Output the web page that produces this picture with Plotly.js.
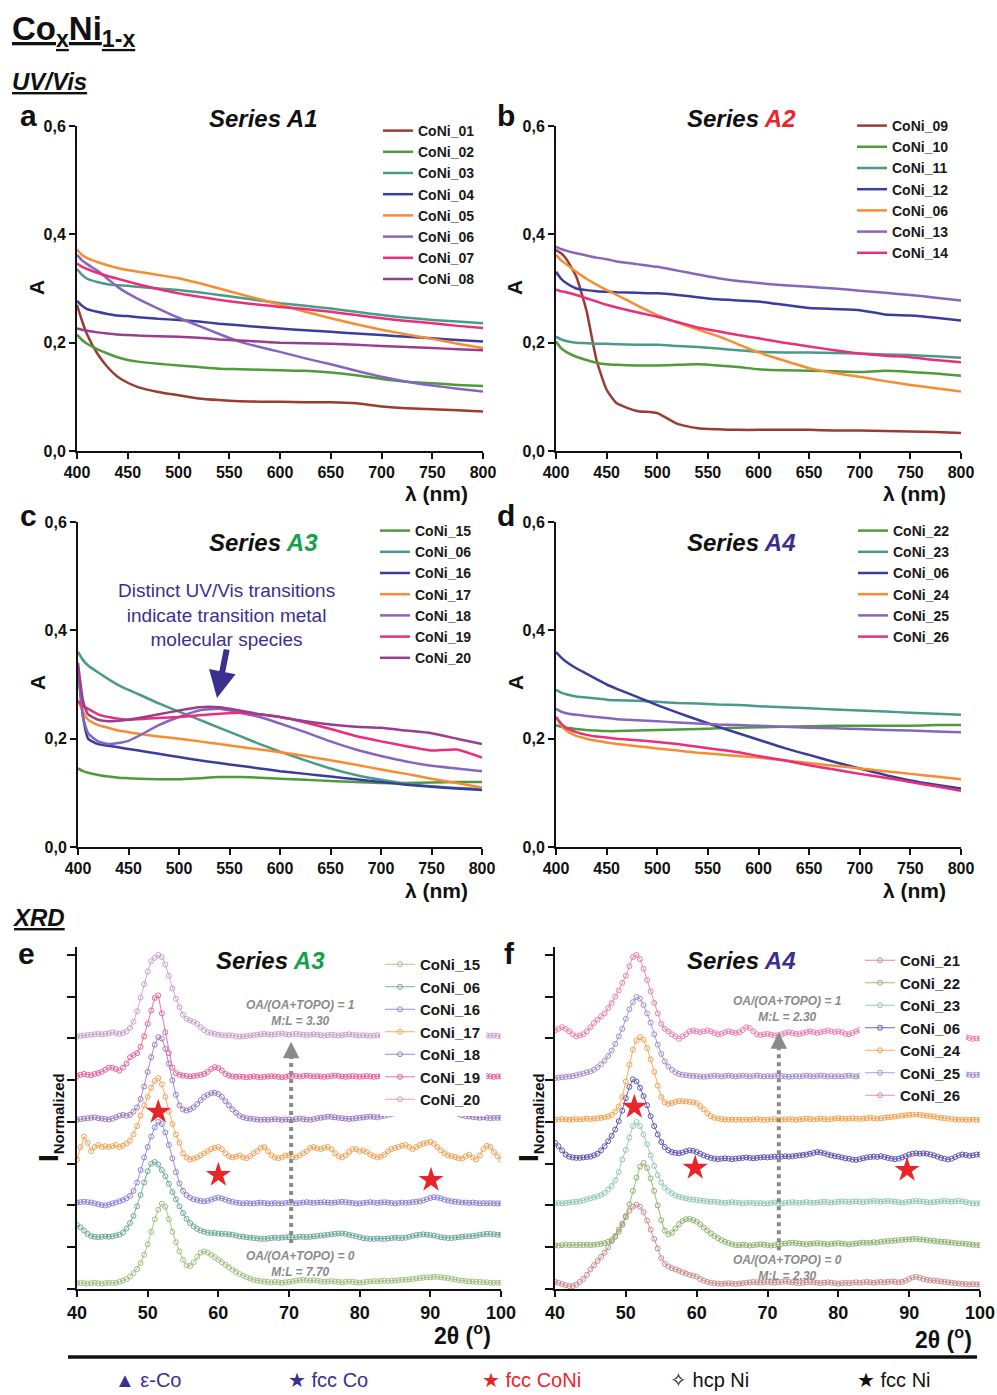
<!DOCTYPE html>
<html><head><meta charset="utf-8">
<script src="https://cdn.plot.ly/plotly-3.0.1.min.js"></script>
<style>html,body{margin:0;padding:0;background:#fff}#chart{width:997px;height:1395px}</style>
</head><body><div id="chart"></div>
<script>
const W = 997, H = 1395;
const F = 'Liberation Sans, Arial, sans-serif';

// ---------------- UV/Vis data ----------------
const lambda = [400,405,410,420,430,440,450,460,480,500,520,540,560,580,600,625,650,675,700,725,750,775,800];
const uvTicks = [400,450,500,550,600,650,700,750,800];
const absTicks = [0,0.2,0.4,0.6];
const absLabels = ['0,0','0,2','0,4','0,6'];

const namesA1 = ['CoNi_01','CoNi_02','CoNi_03','CoNi_04','CoNi_05','CoNi_06','CoNi_07','CoNi_08'];
const CoNi01_A1 = [.27,.24,.215,.18,.155,.137,.126,.118,.109,.103,.097,.094,.092,.091,.091,.09,.09,.088,.082,.079,.077,.075,.073];
const CoNi02_A1 = [.215,.205,.198,.188,.18,.173,.168,.165,.161,.158,.155,.152,.151,.15,.149,.148,.145,.14,.133,.128,.125,.122,.12];
const CoNi03_A1 = [.336,.325,.318,.312,.308,.306,.305,.303,.3,.297,.293,.288,.283,.278,.273,.268,.263,.257,.251,.246,.242,.239,.236];
const CoNi04_A1 = [.277,.268,.262,.257,.253,.25,.249,.247,.244,.242,.239,.235,.232,.229,.226,.223,.22,.217,.214,.211,.208,.205,.202];
const CoNi05_A1 = [.372,.362,.356,.349,.343,.338,.334,.331,.325,.319,.31,.3,.29,.28,.27,.257,.245,.234,.224,.215,.207,.198,.19];
const CoNi06_A1 = [.362,.352,.345,.333,.318,.303,.291,.281,.263,.246,.231,.216,.202,.192,.183,.171,.16,.148,.137,.128,.121,.115,.11];
const CoNi07_A1 = [.346,.34,.336,.329,.323,.318,.313,.308,.299,.291,.285,.279,.274,.27,.266,.262,.257,.251,.245,.24,.236,.231,.227];
const CoNi08_A1 = [.226,.224,.222,.219,.217,.215,.214,.213,.212,.211,.209,.206,.204,.202,.2,.199,.198,.196,.194,.192,.19,.188,.186];

const namesA2 = ['CoNi_09','CoNi_10','CoNi_11','CoNi_12','CoNi_06','CoNi_13','CoNi_14'];
const CoNi09_A2 = [.371,.365,.355,.322,.26,.168,.113,.088,.074,.07,.05,.042,.04,.039,.039,.039,.039,.038,.038,.037,.036,.035,.033];
const CoNi10_A2 = [.202,.19,.183,.174,.168,.163,.16,.159,.158,.158,.159,.16,.158,.155,.151,.149,.148,.147,.146,.148,.146,.143,.139];
const CoNi11_A2 = [.211,.206,.203,.2,.199,.198,.198,.197,.196,.196,.194,.192,.189,.186,.183,.182,.182,.181,.18,.178,.177,.175,.172];
const CoNi12_A2 = [.331,.318,.31,.3,.297,.295,.294,.293,.292,.291,.288,.284,.28,.278,.276,.27,.264,.262,.26,.252,.25,.246,.241];
const CoNi06_A2 = [.362,.352,.345,.331,.318,.307,.297,.288,.269,.251,.237,.224,.212,.197,.182,.167,.153,.144,.137,.129,.122,.116,.11];
const CoNi13_A2 = [.377,.373,.37,.365,.361,.357,.354,.35,.345,.34,.333,.326,.319,.314,.31,.306,.303,.3,.296,.292,.288,.283,.278];
const CoNi14_A2 = [.298,.295,.293,.288,.282,.276,.27,.265,.256,.248,.238,.228,.221,.214,.208,.2,.193,.186,.18,.176,.173,.168,.164];

const namesA3 = ['CoNi_15','CoNi_06','CoNi_16','CoNi_17','CoNi_18','CoNi_19','CoNi_20'];
const CoNi15_A3 = [.145,.14,.137,.133,.13,.128,.127,.126,.125,.125,.127,.129,.129,.128,.126,.124,.122,.12,.118,.118,.119,.12,.12];
const CoNi06_A3 = [.36,.345,.335,.322,.31,.299,.29,.282,.265,.25,.235,.22,.205,.19,.176,.16,.145,.133,.124,.117,.112,.109,.107];
const CoNi16_A3 = [.33,.24,.2,.19,.187,.184,.181,.178,.172,.166,.16,.155,.15,.145,.14,.135,.13,.125,.12,.115,.111,.108,.105];
const CoNi17_A3 = [.27,.25,.235,.225,.22,.215,.212,.209,.204,.2,.195,.19,.185,.18,.175,.168,.16,.152,.143,.135,.126,.118,.11];
const CoNi18_A3 = [.33,.24,.21,.195,.19,.192,.196,.205,.225,.24,.252,.255,.248,.24,.228,.212,.195,.18,.168,.158,.15,.145,.14];
const CoNi19_A3 = [.27,.26,.255,.245,.24,.237,.235,.236,.238,.24,.243,.246,.248,.245,.24,.23,.218,.205,.195,.186,.178,.18,.165];
const CoNi20_A3 = [.34,.27,.245,.235,.232,.233,.235,.238,.245,.252,.258,.258,.252,.245,.24,.232,.226,.222,.22,.215,.21,.2,.19];

const namesA4 = ['CoNi_22','CoNi_23','CoNi_06','CoNi_24','CoNi_25','CoNi_26'];
const CoNi22_A4 = [.225,.222,.22,.218,.216,.215,.214,.214,.215,.216,.217,.218,.219,.22,.221,.222,.223,.224,.224,.224,.224,.225,.225];
const CoNi23_A4 = [.29,.285,.282,.278,.276,.274,.272,.271,.27,.268,.266,.265,.263,.262,.26,.258,.256,.254,.252,.25,.248,.246,.244];
const CoNi06_A4 = [.36,.35,.342,.33,.32,.31,.3,.292,.277,.262,.248,.235,.222,.21,.198,.183,.17,.157,.145,.133,.123,.115,.108];
const CoNi24_A4 = [.24,.225,.215,.205,.2,.196,.193,.19,.186,.182,.178,.174,.171,.168,.165,.16,.155,.15,.145,.14,.135,.13,.125];
const CoNi25_A4 = [.255,.25,.247,.244,.242,.24,.238,.236,.234,.232,.23,.228,.226,.225,.224,.222,.22,.219,.218,.216,.215,.213,.212];
const CoNi26_A4 = [.24,.228,.22,.212,.207,.204,.202,.2,.197,.194,.19,.185,.18,.175,.168,.16,.151,.143,.135,.128,.12,.112,.104];

// ---------------- XRD data (2theta 40..100, step 0.5; profile above stacking offset) ----------------
const tth = []; for (let i = 0; i <= 120; i++) tth.push(40 + 0.5 * i);
const xrdTicks = [40,50,60,70,80,90,100];
const stackTicks = [0,1,2,3,4,5,6,7,8];

const namesXE = ['CoNi_15','CoNi_06','CoNi_16','CoNi_17','CoNi_18','CoNi_19','CoNi_20'];
const offsetsXE = [0.12, 1.2, 2.05, 3.1, 4.05, 5.05, 6.05];
const XE_15 = [0.02,0.03,0.02,0.01,0.02,0.03,0.02,0.01,0.02,0.03,
 0.02,0.03,0.05,0.08,0.12,0.18,0.26,0.36,0.5,0.7,
 0.95,1.25,1.55,1.78,1.92,1.85,1.55,1.25,1.0,0.78,
 0.58,0.45,0.43,0.52,0.65,0.75,0.78,0.75,0.7,0.64,
 0.58,0.52,0.46,0.4,0.34,0.29,0.24,0.2,0.16,0.13,
 0.1,0.08,0.07,0.06,0.05,0.04,0.05,0.04,0.03,0.04,
 0.05,0.06,0.08,0.09,0.1,0.09,0.08,0.09,0.08,0.06,
 0.05,0.06,0.07,0.06,0.05,0.04,0.05,0.06,0.05,0.04,
 0.03,0.04,0.05,0.06,0.07,0.06,0.07,0.08,0.07,0.08,
 0.08,0.09,0.1,0.1,0.11,0.12,0.13,0.14,0.15,0.16,
 0.16,0.17,0.17,0.16,0.15,0.14,0.12,0.11,0.09,0.08,
 0.07,0.06,0.06,0.05,0.05,0.04,0.04,0.03,0.03,0.03,
 0.03];
const XE_06 = [0.33,0.28,0.2,0.12,0.07,0.05,0.04,0.05,0.06,0.05,
 0.06,0.08,0.1,0.15,0.25,0.38,0.55,0.78,1.05,1.35,
 1.62,1.8,1.84,1.78,1.65,1.5,1.32,1.12,0.95,0.78,
 0.62,0.48,0.38,0.3,0.24,0.2,0.17,0.15,0.14,0.14,
 0.13,0.12,0.12,0.11,0.1,0.08,0.06,0.05,0.04,0.03,
 0.02,0.01,0.0,0.0,0.01,0.02,0.03,0.02,0.03,0.04,
 0.04,0.03,0.04,0.05,0.05,0.04,0.05,0.06,0.07,0.08,
 0.09,0.1,0.11,0.12,0.13,0.13,0.12,0.1,0.08,0.06,
 0.04,0.02,0.01,0.0,0.0,0.01,0.0,0.0,0.01,0.02,
 0.03,0.02,0.02,0.03,0.05,0.07,0.09,0.1,0.11,0.1,
 0.09,0.08,0.06,0.04,0.03,0.02,0.02,0.03,0.04,0.05,
 0.06,0.06,0.07,0.08,0.1,0.11,0.12,0.12,0.11,0.1,
 0.1];
const XE_16 = [0.02,0.03,0.04,0.03,0.02,0.0,-0.02,-0.04,-0.05,-0.03,
 0.0,0.02,0.05,0.08,0.12,0.18,0.3,0.5,0.8,1.1,
 1.35,1.6,1.82,1.95,1.9,1.7,1.4,1.08,0.75,0.48,
 0.3,0.2,0.14,0.1,0.08,0.06,0.05,0.06,0.09,0.12,
 0.14,0.12,0.09,0.06,0.04,0.02,0.01,0.0,0.01,0.0,
 0.0,0.01,0.02,0.01,0.0,0.0,0.01,0.0,0.0,0.01,
 0.02,0.01,0.0,0.01,0.02,0.03,0.02,0.01,0.02,0.02,
 0.03,0.02,0.01,0.02,0.03,0.04,0.03,0.02,0.01,0.0,
 0.0,0.01,0.02,0.03,0.02,0.01,0.02,0.03,0.02,0.01,
 0.0,0.01,0.02,0.01,0.02,0.03,0.04,0.05,0.07,0.1,
 0.13,0.15,0.14,0.12,0.09,0.07,0.05,0.04,0.03,0.02,
 0.02,0.01,0.02,0.01,0.0,0.01,0.0,0.01,0.0,0.0,
 0.0];
const XE_17 = [0.0,0.3,0.55,0.4,0.2,0.3,0.35,0.3,0.32,0.3,
 0.32,0.35,0.3,0.33,0.38,0.45,0.6,0.8,1.05,1.3,
 1.5,1.72,1.88,1.95,1.8,1.5,1.15,0.85,0.6,0.4,
 0.15,0.05,0.0,0.02,0.05,0.1,0.15,0.2,0.25,0.28,
 0.3,0.25,0.15,0.08,0.05,0.07,0.1,0.05,0.03,0.08,
 0.15,0.2,0.28,0.3,0.2,0.1,0.05,0.03,0.05,0.1,
 0.1,0.06,0.05,0.1,0.15,0.2,0.28,0.3,0.27,0.25,
 0.28,0.3,0.25,0.15,0.08,0.05,0.1,0.18,0.25,0.25,
 0.2,0.22,0.18,0.12,0.08,0.05,0.07,0.12,0.2,0.25,
 0.28,0.3,0.33,0.35,0.3,0.25,0.3,0.35,0.38,0.4,
 0.42,0.38,0.3,0.22,0.15,0.1,0.08,0.06,0.03,0.02,
 0.08,0.12,0.05,0.0,0.1,0.25,0.33,0.3,0.18,0.08,
 0.0];
const XE_18 = [0.0,0.02,0.03,0.04,0.05,0.06,0.04,0.03,0.02,0.01,
 0.03,0.06,0.1,0.12,0.1,0.12,0.2,0.3,0.5,0.8,
 1.15,1.5,1.8,1.98,1.95,1.7,1.35,0.95,0.6,0.35,
 0.25,0.22,0.25,0.3,0.38,0.47,0.55,0.6,0.64,0.65,
 0.62,0.55,0.45,0.35,0.25,0.17,0.1,0.06,0.04,0.03,
 0.02,0.01,0.0,0.01,0.0,0.01,0.02,0.01,0.0,0.01,
 0.01,0.0,0.02,0.03,0.02,0.01,0.0,0.02,0.04,0.05,
 0.06,0.08,0.07,0.06,0.05,0.04,0.03,0.02,0.03,0.04,
 0.05,0.06,0.07,0.08,0.07,0.06,0.08,0.1,0.12,0.14,
 0.16,0.17,0.18,0.2,0.22,0.23,0.24,0.26,0.27,0.28,
 0.28,0.29,0.27,0.25,0.26,0.24,0.2,0.17,0.14,0.11,
 0.09,0.08,0.07,0.06,0.05,0.06,0.05,0.04,0.05,0.05,
 0.05];
const XE_19 = [0.05,0.08,0.1,0.08,0.07,0.1,0.12,0.15,0.2,0.25,
 0.25,0.22,0.18,0.25,0.35,0.5,0.55,0.6,0.75,1.0,
 1.3,1.62,1.92,1.98,1.55,1.1,0.6,0.25,0.12,0.08,
 0.06,0.05,0.04,0.05,0.06,0.08,0.1,0.15,0.22,0.26,
 0.24,0.18,0.1,0.06,0.04,0.03,0.04,0.03,0.02,0.03,
 0.04,0.03,0.02,0.03,0.04,0.05,0.04,0.03,0.02,0.03,
 0.05,0.06,0.05,0.04,0.05,0.06,0.05,0.04,0.05,0.04,
 0.03,0.04,0.05,0.06,0.05,0.04,0.03,0.04,0.05,0.04,
 0.03,0.04,0.05,0.04,0.03,0.04,0.05,0.06,0.05,0.04,
 0.05,0.06,0.05,0.04,0.05,0.06,0.07,0.06,0.05,0.06,
 0.07,0.06,0.05,0.06,0.05,0.04,0.05,0.06,0.05,0.04,
 0.05,0.06,0.05,0.04,0.05,0.06,0.05,0.04,0.03,0.04,
 0.04];
const XE_20 = [0.0,0.01,0.02,0.03,0.04,0.05,0.06,0.05,0.06,0.07,
 0.1,0.08,0.06,0.08,0.12,0.2,0.35,0.6,0.93,1.25,
 1.55,1.8,1.88,1.95,1.9,1.72,1.45,1.15,0.9,0.7,
 0.52,0.42,0.38,0.35,0.3,0.22,0.15,0.1,0.08,0.06,
 0.04,0.03,0.02,0.03,0.02,0.0,-0.01,0.0,0.01,0.02,
 0.03,0.04,0.05,0.06,0.05,0.04,0.05,0.06,0.07,0.05,
 0.04,0.05,0.06,0.05,0.04,0.03,0.04,0.05,0.04,0.03,
 0.02,0.03,0.04,0.03,0.02,0.03,0.04,0.05,0.04,0.03,
 0.02,0.03,0.02,0.01,0.02,0.03,0.02,0.01,0.02,0.03,
 0.04,0.03,0.02,0.03,0.02,0.01,0.02,0.03,0.02,0.01,
 0.02,0.03,0.02,0.01,0.02,0.03,0.02,0.01,0.02,0.01,
 0.0,0.01,0.02,0.01,0.02,0.03,0.02,0.01,0.02,0.01,
 0.0];
const profilesXE = [XE_15, XE_06, XE_16, XE_17, XE_18, XE_19, XE_20];

const namesXF = ['CoNi_21','CoNi_22','CoNi_23','CoNi_06','CoNi_24','CoNi_25','CoNi_26'];
const offsetsXF = [0.12, 1.05, 2.05, 3.12, 4.05, 5.05, 6.05];
const XF_21 = [0.05,0.03,0.0,-0.03,-0.05,-0.05,-0.02,0.05,0.12,0.22,
 0.35,0.45,0.55,0.65,0.75,0.88,1.02,1.15,1.3,1.45,
 1.6,1.75,1.85,1.9,1.85,1.72,1.52,1.3,1.08,0.85,
 0.62,0.48,0.42,0.38,0.35,0.32,0.28,0.25,0.22,0.2,
 0.18,0.12,0.08,0.05,0.03,0.02,0.01,0.0,0.01,0.02,
 0.01,0.0,0.01,0.02,0.03,0.04,0.05,0.04,0.03,0.04,
 0.05,0.04,0.03,0.04,0.05,0.06,0.05,0.04,0.03,0.02,
 0.03,0.04,0.05,0.04,0.03,0.02,0.03,0.04,0.03,0.02,
 0.01,0.02,0.03,0.02,0.03,0.04,0.03,0.04,0.05,0.04,
 0.03,0.04,0.05,0.04,0.05,0.06,0.05,0.04,0.05,0.08,
 0.12,0.16,0.17,0.15,0.12,0.1,0.09,0.08,0.07,0.06,
 0.05,0.04,0.03,0.02,0.01,0.0,0.0,-0.01,0.0,-0.01,
 -0.01];
const XF_22 = [0.0,-0.01,0.0,0.01,0.0,0.01,0.0,0.01,0.0,0.01,
 0.0,0.01,0.02,0.03,0.05,0.08,0.12,0.2,0.32,0.48,
 0.7,0.98,1.3,1.62,1.88,1.97,1.85,1.6,1.3,0.95,
 0.6,0.35,0.26,0.3,0.4,0.5,0.58,0.62,0.63,0.6,
 0.56,0.5,0.42,0.35,0.28,0.22,0.17,0.12,0.08,0.05,
 0.02,0.0,0.0,0.01,0.0,-0.01,0.0,0.01,0.02,0.01,
 0.0,-0.01,0.0,0.02,0.03,0.04,0.05,0.06,0.05,0.04,
 0.03,0.02,0.03,0.04,0.05,0.04,0.03,0.02,0.03,0.04,
 0.05,0.04,0.03,0.02,0.03,0.04,0.05,0.06,0.05,0.06,
 0.07,0.06,0.08,0.09,0.1,0.1,0.11,0.12,0.13,0.13,
 0.14,0.15,0.15,0.14,0.13,0.12,0.11,0.1,0.09,0.08,
 0.08,0.07,0.06,0.05,0.04,0.04,0.03,0.02,0.01,0.0,
 0.0];
const XF_23 = [0.0,0.01,0.0,0.01,0.02,0.03,0.04,0.05,0.07,0.1,
 0.12,0.14,0.17,0.2,0.25,0.33,0.42,0.55,0.75,1.05,
 1.28,1.58,1.85,1.95,1.85,1.65,1.42,1.15,0.9,0.68,
 0.5,0.38,0.3,0.24,0.19,0.16,0.14,0.12,0.1,0.09,
 0.08,0.07,0.06,0.05,0.04,0.04,0.03,0.02,0.01,0.02,
 0.03,0.02,0.01,0.0,0.01,0.02,0.01,0.0,0.01,0.0,
 0.0,0.01,0.02,0.01,0.0,0.01,0.02,0.03,0.02,0.01,
 0.02,0.03,0.02,0.01,0.02,0.03,0.04,0.03,0.02,0.03,
 0.04,0.05,0.04,0.03,0.04,0.05,0.04,0.03,0.04,0.05,
 0.06,0.05,0.04,0.05,0.06,0.05,0.04,0.03,0.02,0.03,
 0.04,0.05,0.06,0.05,0.04,0.03,0.02,0.03,0.04,0.05,
 0.06,0.05,0.04,0.05,0.06,0.05,0.03,0.01,0.0,0.0,
 0.01];
const XF_06 = [0.38,0.3,0.2,0.1,0.05,0.03,0.02,0.02,0.03,0.04,
 0.05,0.08,0.12,0.2,0.3,0.42,0.55,0.7,0.9,1.15,
 1.45,1.72,1.9,1.85,1.7,1.5,1.28,1.02,0.78,0.58,
 0.4,0.28,0.2,0.16,0.14,0.13,0.15,0.18,0.2,0.19,
 0.16,0.12,0.08,0.05,0.02,0.0,-0.01,0.0,0.01,0.0,
 -0.01,0.0,0.01,0.02,0.03,0.02,0.01,0.02,0.03,0.04,
 0.03,0.04,0.05,0.04,0.05,0.06,0.05,0.06,0.07,0.08,
 0.09,0.1,0.12,0.14,0.16,0.15,0.13,0.1,0.08,0.06,
 0.05,0.03,0.01,0.0,-0.02,-0.03,-0.01,0.01,0.03,0.04,
 0.05,0.04,0.06,0.04,0.02,0.0,-0.01,0.0,0.03,0.06,
 0.1,0.12,0.13,0.12,0.13,0.12,0.1,0.08,0.05,0.02,
 0.0,-0.02,0.0,0.04,0.08,0.1,0.09,0.07,0.08,0.1,
 0.1];
const XF_24 = [0.0,0.01,0.02,0.01,0.0,0.01,0.02,0.01,0.02,0.03,
 0.02,0.03,0.04,0.05,0.06,0.08,0.12,0.2,0.32,0.55,
 0.92,1.32,1.68,1.9,1.98,1.92,1.72,1.45,1.15,0.82,
 0.55,0.42,0.38,0.4,0.43,0.45,0.45,0.44,0.43,0.42,
 0.4,0.33,0.25,0.16,0.09,0.05,0.03,0.02,0.01,0.0,
 0.01,0.0,0.01,0.0,0.01,0.0,0.01,0.02,0.01,0.0,
 0.0,0.01,0.02,0.01,0.0,0.01,0.02,0.01,0.0,0.01,
 0.02,0.03,0.02,0.01,0.02,0.03,0.02,0.01,0.02,0.03,
 0.04,0.03,0.02,0.03,0.04,0.03,0.02,0.03,0.04,0.05,
 0.04,0.03,0.04,0.05,0.06,0.07,0.08,0.09,0.1,0.11,
 0.12,0.13,0.13,0.12,0.11,0.1,0.09,0.08,0.06,0.05,
 0.04,0.03,0.02,0.01,0.0,0.01,0.0,0.0,0.01,0.0,
 0.0];
const XF_25 = [0.0,0.01,0.02,0.03,0.04,0.05,0.07,0.09,0.11,0.14,
 0.16,0.2,0.26,0.33,0.42,0.53,0.66,0.82,1.0,1.18,
 1.42,1.65,1.82,1.94,1.9,1.75,1.55,1.33,1.05,0.8,
 0.58,0.4,0.28,0.2,0.14,0.1,0.08,0.07,0.06,0.05,
 0.05,0.04,0.03,0.04,0.05,0.06,0.05,0.04,0.05,0.06,
 0.05,0.04,0.05,0.06,0.05,0.04,0.05,0.06,0.05,0.04,
 0.05,0.04,0.05,0.06,0.05,0.04,0.03,0.04,0.05,0.04,
 0.05,0.06,0.05,0.04,0.05,0.06,0.05,0.04,0.05,0.04,
 0.05,0.04,0.05,0.06,0.05,0.04,0.05,0.06,0.05,0.04,
 0.05,0.04,0.05,0.06,0.05,0.04,0.05,0.06,0.07,0.06,
 0.07,0.06,0.05,0.06,0.07,0.08,0.07,0.06,0.07,0.08,
 0.07,0.08,0.09,0.08,0.07,0.08,0.09,0.08,0.07,0.08,
 0.08];
const XF_26 = [0.14,0.18,0.22,0.18,0.12,0.05,0.0,0.02,0.05,0.12,
 0.22,0.32,0.4,0.48,0.55,0.68,0.8,0.95,1.1,1.28,
 1.45,1.68,1.9,1.95,1.85,1.62,1.35,1.08,0.8,0.55,
 0.3,0.18,0.12,0.05,0.0,-0.06,0.0,0.05,0.12,0.14,
 0.12,0.1,0.12,0.14,0.12,0.08,0.05,0.06,0.1,0.12,
 0.1,0.08,0.1,0.15,0.22,0.2,0.12,0.05,0.03,0.05,
 0.06,0.04,0.02,0.03,0.05,0.08,0.1,0.08,0.06,0.05,
 0.08,0.1,0.12,0.1,0.08,0.1,0.12,0.14,0.12,0.1,
 0.12,0.1,0.06,0.05,0.08,0.12,0.15,0.14,0.12,0.1,
 0.12,0.14,0.15,0.18,0.2,0.18,0.15,0.12,0.1,0.12,
 0.14,0.1,0.05,0.02,0.05,0.1,0.14,0.15,0.12,0.15,
 0.18,0.2,0.18,0.12,0.05,0.0,-0.02,-0.04,-0.06,-0.05,
 -0.05];
const profilesXF = [XF_21, XF_22, XF_23, XF_06, XF_24, XF_25, XF_26];

// red star (fcc CoNi) markers on the XRD panels
const starE_x = [51.5, 60.0, 90.1], starE_y = [4.24, 2.73, 2.61];
const starF_x = [51.2, 59.8, 89.7], starF_y = [4.36, 2.9, 2.85];

// ---------------- styles ----------------
const uvColA1 = ['#9b3b33','#4f9a3a','#4a9a88','#3a3d9e','#f78c30','#8665bf','#ec2d7a','#9a3d8e'];
const uvColA2 = ['#9b3b33','#4f9a3a','#4a9a88','#3a3d9e','#f78c30','#8665bf','#ec2d7a'];
const uvColA3 = ['#4f9a3a','#4a9a88','#3a3d9e','#f78c30','#8665bf','#ec2d7a','#9a3d8e'];
const uvColA4 = ['#4f9a3a','#4a9a88','#3a3d9e','#f78c30','#8665bf','#ec2d7a'];
const xrdColE = ['#9fbf80','#6aa898','#8a84d6','#f5a256','#9a7cc6','#e9619b','#c9a0cc'];
const xrdColF = ['#cc8a8c','#8db46e','#94c6b6','#5d54b0','#f6a24e','#a58dd0','#ef7eaa'];

const traces = [];
function axn(k){ return k === 1 ? '' : String(k); }
function addUV(names, vals, colors, k){
  names.forEach((n, i) => traces.push({
    type:'scatter', mode:'lines', x: lambda, y: vals[i], name: n,
    xaxis:'x'+axn(k), yaxis:'y'+axn(k), legend:'legend'+axn(k),
    line:{color: colors[i], width: 2.5, shape:'spline', smoothing:0.5}
  }));
}
function addXRD(names, profiles, offsets, colors, k){
  names.forEach((n, i) => traces.push({
    type:'scatter', mode:'lines+markers', x: tth, y: profiles[i].map(v => v + offsets[i]), name: n,
    xaxis:'x'+k, yaxis:'y'+k, legend:'legend'+k,
    line:{color: colors[i], width: 0.9},
    marker:{symbol:'circle-open', size:5, color: colors[i], line:{width:1, color: colors[i]}}
  }));
}
addUV(namesA1, [CoNi01_A1,CoNi02_A1,CoNi03_A1,CoNi04_A1,CoNi05_A1,CoNi06_A1,CoNi07_A1,CoNi08_A1], uvColA1, 1);
addUV(namesA2, [CoNi09_A2,CoNi10_A2,CoNi11_A2,CoNi12_A2,CoNi06_A2,CoNi13_A2,CoNi14_A2], uvColA2, 2);
addUV(namesA3, [CoNi15_A3,CoNi06_A3,CoNi16_A3,CoNi17_A3,CoNi18_A3,CoNi19_A3,CoNi20_A3], uvColA3, 3);
addUV(namesA4, [CoNi22_A4,CoNi23_A4,CoNi06_A4,CoNi24_A4,CoNi25_A4,CoNi26_A4], uvColA4, 4);
addXRD(namesXE, profilesXE, offsetsXE, xrdColE, 5);
addXRD(namesXF, profilesXF, offsetsXF, xrdColF, 6);
traces.push({type:'scatter', mode:'markers', x: starE_x, y: starE_y, xaxis:'x5', yaxis:'y5', showlegend:false,
  marker:{symbol:'star', size:19, color:'#e8262a', line:{width:0}}});
traces.push({type:'scatter', mode:'markers', x: starF_x, y: starF_y, xaxis:'x6', yaxis:'y6', showlegend:false,
  marker:{symbol:'star', size:19, color:'#e8262a', line:{width:0}}});

// ---------------- layout helpers ----------------
const dX = (a, b) => [a / W, b / W];
const dY = (top, bot) => [1 - bot / H, 1 - top / H];
const tickFont = s => ({family:F, size:s, color:'#111', weight:'bold'});
function axisBase(){
  return {showline:true, linewidth:2, linecolor:'#111', ticks:'outside', ticklen:6, tickwidth:2, tickcolor:'#111',
    showgrid:false, zeroline:false, fixedrange:true};
}
function uvX(dom, anchor){ return Object.assign(axisBase(), {domain:dom, anchor, range:[400,800], tickvals:uvTicks, tickfont:tickFont(16)}); }
function uvY(dom, anchor){ return Object.assign(axisBase(), {domain:dom, anchor, range:[0,0.6], tickvals:absTicks, ticktext:absLabels, tickfont:tickFont(16)}); }
function xrX(dom, anchor){ return Object.assign(axisBase(), {domain:dom, anchor, range:[40,100], tickvals:xrdTicks, tickfont:tickFont(18)}); }
function xrY(dom, anchor){ return Object.assign(axisBase(), {domain:dom, anchor, range:[0,8.19], tickvals:stackTicks, showticklabels:false, ticklen:8}); }
function leg(xpx, ypx, size, bg){
  return {x: xpx / W, y: 1 - ypx / H, xanchor:'left', yanchor:'top', bgcolor: bg || 'rgba(0,0,0,0)', borderwidth:0,
    font:{family:F, size, color:'#1a1a1a', weight:'bold'}, tracegroupgap:0, itemwidth:30, traceorder:'normal'};
}
function ann(xp, yp, text, size, extra){
  return Object.assign({xref:'paper', yref:'paper', x: xp / W, y: 1 - yp / H, text, showarrow:false,
    font:{family:F, size, color:'#111'}, xanchor:'center', yanchor:'middle'}, extra || {});
}
const red = '#e8262a', green = '#17a04a', indigo = '#3b2f8f', gray = '#8a8a8a';
const narrow = c => ({family:'Liberation Sans Narrow, Liberation Sans, Arial', size:20, color:c});

const annotations = [
  ann(10, 31, '<b><u>Co<sub>x</sub>Ni<sub>1-x</sub></u></b>', 33, {xanchor:'left'}),
  ann(10, 81, '<b><i><u>UV/Vis</u></i></b>', 24, {xanchor:'left'}),
  ann(10, 917, '<b><i><u>XRD</u></i></b>', 24, {xanchor:'left'}),
  ann(28, 116, '<b>a</b>', 30), ann(506, 116, '<b>b</b>', 30),
  ann(28, 515, '<b>c</b>', 30), ann(506, 515, '<b>d</b>', 30),
  ann(26, 953, '<b>e</b>', 30), ann(509, 953, '<b>f</b>', 30),
  ann(263, 119, '<b><i>Series A1</i></b>', 24),
  ann(741, 119, '<b><i>Series <span style="color:' + red + '">A2</span></i></b>', 24),
  ann(263, 543, '<b><i>Series <span style="color:' + green + '">A3</span></i></b>', 24),
  ann(741, 543, '<b><i>Series <span style="color:' + indigo + '">A4</span></i></b>', 24),
  ann(270, 960, '<b><i>Series <span style="color:' + green + '">A3</span></i></b>', 24),
  ann(741, 960, '<b><i>Series <span style="color:' + indigo + '">A4</span></i></b>', 24),
  ann(37, 288, '<b>A</b>', 21, {textangle:-90}), ann(515, 288, '<b>A</b>', 21, {textangle:-90}),
  ann(37, 683, '<b>A</b>', 21, {textangle:-90}), ann(515, 683, '<b>A</b>', 21, {textangle:-90}),
  ann(436, 494, '<b>λ (nm)</b>', 21), ann(914, 494, '<b>λ (nm)</b>', 21),
  ann(436, 890, '<b>λ (nm)</b>', 21), ann(914, 890, '<b>λ (nm)</b>', 21),
  ann(226, 615, 'Distinct UV/Vis transitions<br>indicate transition metal<br>molecular species', 19,
      {font:{family:F, size:19, color:indigo}}),
  {xref:'paper', yref:'paper', x: 217 / W, y: 1 - 698 / H, ax: 10, ay: -50, showarrow:true, text:'',
   arrowhead:2, arrowsize:0.9, arrowwidth:6, arrowcolor:indigo},
  ann(300, 1013, '<b><i>OA/(OA+TOPO) = 1<br>M:L = 3.30</i></b>', 12, {font:{family:F, size:12, color:gray}}),
  ann(300, 1264, '<b><i>OA/(OA+TOPO) = 0<br>M:L = 7.70</i></b>', 12, {font:{family:F, size:12, color:gray}}),
  ann(787, 1009, '<b><i>OA/(OA+TOPO) = 1<br>M:L = 2.30</i></b>', 12, {font:{family:F, size:12, color:gray}}),
  ann(787, 1268, '<b><i>OA/(OA+TOPO) = 0<br>M:L = 2.30</i></b>', 12, {font:{family:F, size:12, color:gray}}),
  {xref:'x5', yref:'y5', x:70.3, y:5.92, ax:0, ay:14, showarrow:true, text:'', arrowhead:2, arrowsize:1.1, arrowwidth:3, arrowcolor:gray},
  {xref:'x6', yref:'y6', x:71.6, y:6.15, ax:0, ay:14, showarrow:true, text:'', arrowhead:2, arrowsize:1.1, arrowwidth:3, arrowcolor:gray},
  ann(462, 1334, '<b>2θ (<sup>o</sup>)</b>', 23), ann(943, 1338, '<b>2θ (<sup>o</sup>)</b>', 23),
  ann(50, 1118, '<b>I<sub><span style="font-size:15px">Normalized</span></sub></b>', 28, {textangle:-90}),
  ann(530, 1118, '<b>I<sub><span style="font-size:15px">Normalized</span></sub></b>', 28, {textangle:-90}),
  ann(148, 1380, '▲ ε-Co', 20, {font:narrow(indigo)}),
  ann(328, 1380, '★ fcc Co', 20, {font:narrow(indigo)}),
  ann(531, 1380, '★ fcc CoNi', 20, {font:narrow(red)}),
  ann(709, 1380, '✧ hcp Ni', 20, {font:narrow('#111')}),
  ann(894, 1380, '★ fcc Ni', 20, {font:narrow('#111')})
];

const shapes = [
  {type:'line', xref:'paper', yref:'paper', x0:68 / W, x1:977 / W, y0:1 - 1357 / H, y1:1 - 1357 / H, line:{color:'#111', width:3.5}},
  {type:'line', xref:'x5', yref:'y5', x0:70.3, x1:70.3, y0:1.1, y1:5.75, line:{color:gray, width:4, dash:'dot'}},
  {type:'line', xref:'x6', yref:'y6', x0:71.6, x1:71.6, y0:0.93, y1:5.98, line:{color:gray, width:4, dash:'dot'}}
];

const layout = {
  width: W, height: H, autosize:false,
  margin:{l:0, r:0, t:0, b:0},
  paper_bgcolor:'#fff', plot_bgcolor:'rgba(0,0,0,0)',
  font:{family:F, color:'#111'},
  xaxis: uvX(dX(77,483), 'y'),   yaxis: uvY(dY(126,451), 'x'),
  xaxis2: uvX(dX(556,961), 'y2'), yaxis2: uvY(dY(126,451), 'x2'),
  xaxis3: uvX(dX(78,482), 'y3'),  yaxis3: uvY(dY(522,847), 'x3'),
  xaxis4: uvX(dX(556,961), 'y4'), yaxis4: uvY(dY(522,847), 'x4'),
  xaxis5: xrX(dX(77,501), 'y5'),  yaxis5: xrY(dY(947,1289), 'x5'),
  xaxis6: xrX(dX(555,980), 'y6'), yaxis6: xrY(dY(947,1289), 'x6'),
  legend:  leg(378, 115, 14),
  legend2: leg(852, 110, 14),
  legend3: leg(375, 515, 14),
  legend4: leg(853, 515, 14),
  legend5: leg(380, 948, 15, '#ffffff'),
  legend6: leg(860, 944, 15, '#ffffff'),
  annotations, shapes
};

Plotly.newPlot('chart', traces, layout, {staticPlot:true, displayModeBar:false});
</script></body></html>
